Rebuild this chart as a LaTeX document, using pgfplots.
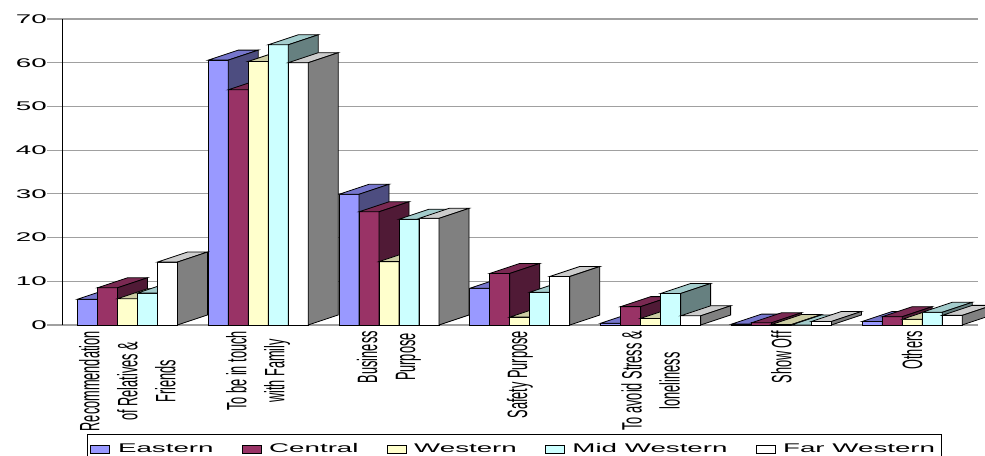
\documentclass[border=0pt]{standalone}
\usepackage{pgfplots}
\pgfplotsset{compat=1.18}
\usepackage{pgfplotstable}
\usepackage{fontspec}
\setmainfont{Liberation Sans}
\newfontfamily\widefont{Liberation Sans}[FakeStretch=2.2]
\newfontfamily\narrowfont{Liberation Sans}[FakeStretch=0.456]
\newcommand\tickfont{\widefont\fontsize{12.6bp}{15bp}\selectfont}
\newcommand\catfont{\narrowfont\fontsize{28bp}{38bp}\selectfont}

\definecolor{eF}{RGB}{153,153,255}
\definecolor{eT}{RGB}{118,118,204}
\definecolor{eS}{RGB}{77,77,128}
\definecolor{cF}{RGB}{153,51,102}
\definecolor{cT}{RGB}{122,41,82}
\definecolor{cS}{RGB}{80,26,54}
\definecolor{wF}{RGB}{255,255,204}
\definecolor{wT}{RGB}{204,204,163}
\definecolor{wS}{RGB}{128,128,102}
\definecolor{mF}{RGB}{204,255,255}
\definecolor{mT}{RGB}{163,204,204}
\definecolor{mS}{RGB}{102,128,128}
\definecolor{fF}{RGB}{255,255,255}
\definecolor{fT}{RGB}{204,204,204}
\definecolor{fS}{RGB}{128,128,128}
\definecolor{gridgray}{RGB}{160,160,160}

\pgfplotstableread{
x E C W M F
0 5.9 8.5 6.0 7.3 14.4
1 60.6 53.8 60.3 64.1 60.0
2 29.9 25.9 14.5 24.2 24.4
3 8.4 11.8 1.8 7.5 11.1
4 0.4 4.2 1.5 7.2 2.1
5 0.2 0.5 0.1 0.0 0.8
6 0.8 1.9 1.3 2.9 2.2
}\data

\pgfdeclareplotmark{nothing}{}
\newdimen\dH \newdimen\dR \newdimen\dL \newdimen\dRB \newdimen\dLB \newdimen\dHB
% #1 right edge offset of the bar, #2 top colour, #3 side colour; height from point meta
\newcommand\depthfaces[3]{%
  \pgfscope
  \dH=\pgfplotspointmeta bp \dH=-4.371\dH
  \dR=#1 \dL=\dR \advance\dL by -20bp
  \dRB=\dR \advance\dRB by 30bp
  \dLB=\dR \advance\dLB by 10bp
  \dHB=\dH \advance\dHB by 10bp
  \pgfsetlinewidth{0.8bp}\pgfsetstrokecolor{black}%
  \pgfsetfillcolor{#2}%
  \pgfpathmoveto{\pgfqpoint{\dL}{0pt}}%
  \pgfpathlineto{\pgfqpoint{\dR}{0pt}}%
  \pgfpathlineto{\pgfqpoint{\dRB}{10bp}}%
  \pgfpathlineto{\pgfqpoint{\dLB}{10bp}}%
  \pgfpathclose\pgfusepath{fill,stroke}%
  \pgfsetfillcolor{#3}%
  \pgfpathmoveto{\pgfqpoint{\dR}{0pt}}%
  \pgfpathlineto{\pgfqpoint{\dRB}{10bp}}%
  \pgfpathlineto{\pgfqpoint{\dRB}{\dHB}}%
  \pgfpathlineto{\pgfqpoint{\dR}{\dH}}%
  \pgfpathclose\pgfusepath{fill,stroke}%
  \endpgfscope}

\pgfplotsset{
  front/.style 2 args={ybar, bar width=20bp, bar shift=#1, fill=#2, draw=black, line width=0.8bp},
  depth/.style n args={3}{%
    forget plot, scatter, only marks, mark=nothing,
    point meta=explicit symbolic,
    scatter/@pre marker code/.code={\depthfaces{#1}{#2}{#3}},
    scatter/@post marker code/.code={},
  },
}

\begin{document}
\begin{tikzpicture}
\useasboundingbox (-62bp,-131bp) rectangle (923bp,325bp);
\begin{axis}[
  at={(0,0)}, anchor=south west,
  x=130.8bp, y=4.371bp,
  xmin=-0.5, xmax=6.5, ymin=0, ymax=70,
  clip mode=individual,
  axis lines*=left,
  x axis line style={draw=none},
  y axis line style={black, line width=1bp},
  ymajorgrids, grid style={gridgray, line width=1.2bp},
  ytick={0,10,...,70},
  tick align=outside,
  major tick length=15bp,
  ytick style={gridgray, line width=1.2bp},
  xtick style={draw=none},
  xtick={0,...,6},
  xticklabels={{Recommendation\\of Relatives \&\\Friends},{To be in touch\\with Family},{Business\\Purpose},{Safety Purpose},{To avoid Stress \&\\loneliness},{Show Off},{Others}},
  xticklabel style={font=\catfont, rotate=90, anchor=east, align=center, inner sep=0pt},
  xticklabel shift=-9bp,
  yticklabel style={font=\tickfont, anchor=east, inner sep=0pt},
  /pgf/number format/assume math mode=true,
  legend image code/.code={\draw[#1,draw=black,line width=0.6bp] (0bp,-4bp) rectangle (19bp,4bp);},
  legend style={at={(axis description cs:0.0273,-0.3562)}, anchor=north west,
    draw=black, line width=1bp, font=\tickfont, legend columns=5,
    inner ysep=6bp,
    nodes={inner sep=3bp},
    /tikz/every odd column/.append style={column sep=5bp},
    /tikz/every even column/.append style={column sep=25bp}},
]
\addplot[front={-40bp}{eF}] table[x=x,y=E]{\data};
\addplot[depth={-30bp}{eT}{eS}] table[x=x,y=E,meta=E]{\data};
\addplot[front={-20bp}{cF}] table[x=x,y=C]{\data};
\addplot[depth={-10bp}{cT}{cS}] table[x=x,y=C,meta=C]{\data};
\addplot[front={0bp}{wF}] table[x=x,y=W]{\data};
\addplot[depth={10bp}{wT}{wS}] table[x=x,y=W,meta=W]{\data};
\addplot[front={20bp}{mF}] table[x=x,y=M]{\data};
\addplot[depth={30bp}{mT}{mS}] table[x=x,y=M,meta=M]{\data};
\addplot[front={40bp}{fF}] table[x=x,y=F]{\data};
\addplot[depth={50bp}{fT}{fS}] table[x=x,y=F,meta=F]{\data};
\legend{Eastern, Central, Western, Mid Western, Far Western}
\end{axis}
\end{tikzpicture}
\end{document}
